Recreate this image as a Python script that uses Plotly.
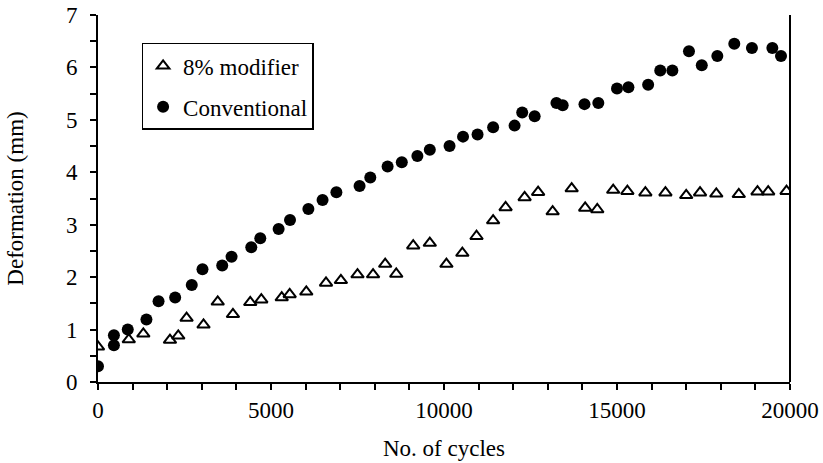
import plotly.graph_objects as go

# Deformation vs. number of load cycles for two mixtures
modifier_cycles = [0, 890, 1310, 2080, 2320, 2560, 3050, 3460, 3900, 4400, 4720, 5310,
                   5540, 6020, 6590, 7020, 7500, 7950, 8300, 8620, 9110, 9590, 10070,
                   10530, 10940, 11420, 11780, 12330, 12720, 13140, 13690, 14080, 14430,
                   14890, 15300, 15820, 16400, 17000, 17400, 17870, 18520, 19060, 19370,
                   19900]
modifier_def = [0.67, 0.81, 0.92, 0.80, 0.88, 1.22, 1.09, 1.53, 1.29, 1.52, 1.57, 1.61,
                1.67, 1.72, 1.89, 1.94, 2.05, 2.05, 2.25, 2.06, 2.60, 2.65, 2.25,
                2.46, 2.78, 3.08, 3.33, 3.52, 3.62, 3.25, 3.69, 3.32, 3.29,
                3.66, 3.64, 3.61, 3.61, 3.56, 3.61, 3.59, 3.58, 3.63, 3.63,
                3.64]

conv_cycles = [0, 460, 460, 860, 1400, 1750, 2230, 2710, 3020, 3590, 3860, 4430, 4690,
               5220, 5550, 6080, 6490, 6890, 7560, 7870, 8370, 8780, 9230, 9590, 10160,
               10550, 10970, 11420, 12040, 12260, 12620, 13250, 13430, 14060, 14460,
               15000, 15330, 15900, 16250, 16600, 17080, 17450, 17900, 18390, 18900,
               19490, 19740]
conv_def = [0.30, 0.70, 0.89, 1.00, 1.19, 1.54, 1.61, 1.85, 2.15, 2.22, 2.39, 2.57, 2.74,
            2.92, 3.09, 3.30, 3.47, 3.62, 3.74, 3.90, 4.11, 4.19, 4.31, 4.43, 4.50,
            4.68, 4.72, 4.86, 4.89, 5.14, 5.07, 5.32, 5.28, 5.30, 5.32,
            5.60, 5.62, 5.67, 5.94, 5.94, 6.31, 6.04, 6.22, 6.45, 6.37,
            6.37, 6.22]

FONT = "Liberation Serif, Times New Roman, serif"
FS = 23

fig = go.Figure()
fig.add_trace(go.Scatter(
    x=modifier_cycles, y=modifier_def, mode="markers", name="8% modifier",
    legendgroup="a",
    marker=dict(symbol="triangle-up-open", size=11, color="black",
                line=dict(color="black", width=2)),
))
fig.add_trace(go.Scatter(
    x=conv_cycles, y=conv_def, mode="markers", name="Conventional",
    legendgroup="b",
    marker=dict(symbol="circle", size=12, color="black"),
))

axis_common = dict(
    showgrid=False, zeroline=False, showline=True, linecolor="black", linewidth=2,
    ticks="outside", ticklen=6, tickwidth=2, tickcolor="black",
    tickfont=dict(family=FONT, size=FS, color="black"),
    automargin=False,
)

fig.update_xaxes(
    range=[0, 20000], dtick=5000, tick0=0, tickformat="d",
    minor=dict(dtick=1000, ticks="outside", ticklen=6, tickwidth=2, tickcolor="black"),
    title=dict(text="No. of cycles", font=dict(family=FONT, size=FS, color="black"),
               standoff=18),
    **axis_common,
)
fig.update_yaxes(
    range=[0, 7], dtick=1, tick0=0,
    minor=dict(dtick=0.5, ticks="outside", ticklen=6, tickwidth=2, tickcolor="black"),
    title=dict(text="Deformation (mm)", font=dict(family=FONT, size=FS, color="black"),
               standoff=36),
    ticklabelstandoff=8,
    **axis_common,
)

# right-hand frame line of the plot area
fig.add_shape(type="line", xref="paper", yref="paper", x0=1, x1=1, y0=0, y1=1,
              line=dict(color="black", width=2))

fig.update_layout(
    width=823, height=463,
    margin=dict(l=98, r=33, t=15, b=81),
    paper_bgcolor="white", plot_bgcolor="white",
    font=dict(family=FONT, color="black"),
    showlegend=True,
    legend=dict(
        x=0.063, y=0.924, xanchor="left", yanchor="top",
        bgcolor="white", bordercolor="black", borderwidth=1.5,
        font=dict(family=FONT, size=FS, color="black"),
        traceorder="grouped", tracegroupgap=8, itemwidth=30,
    ),
)

fig.write_html("out.html")
